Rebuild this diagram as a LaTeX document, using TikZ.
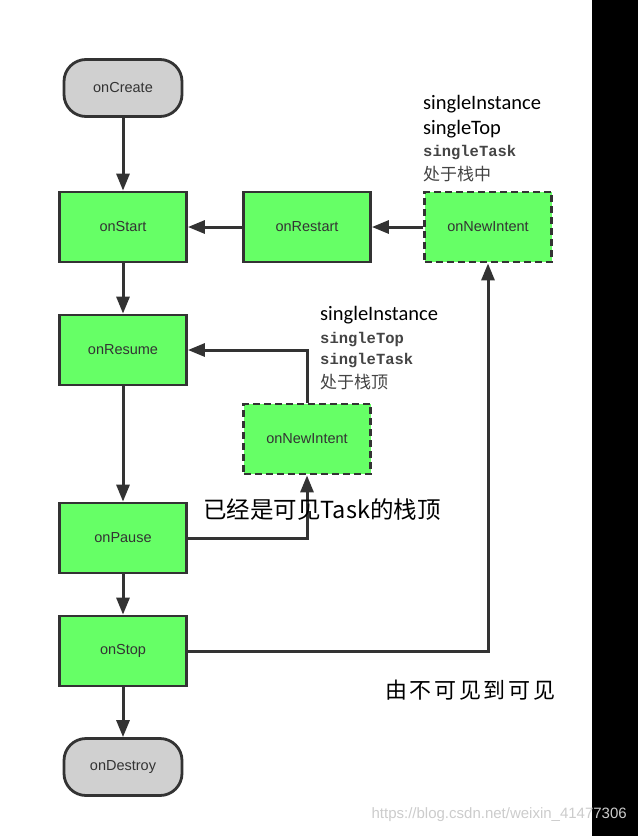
\documentclass[tikz,border=0pt]{standalone}
\usepackage{fontspec}
\setmainfont{Liberation Sans}
\newfontfamily\cjk{Noto Sans CJK SC}
\newfontfamily\calib{Carlito}
\newfontfamily\monob{Liberation Mono}
\usetikzlibrary{arrows.meta}
\definecolor{lgreen}{HTML}{66FF66}
\definecolor{lgray}{HTML}{D0D0D0}
\definecolor{dk}{HTML}{333333}
\definecolor{midgray}{HTML}{444444}
\definecolor{wmgray}{HTML}{CCCCCC}
\begin{document}
\begin{tikzpicture}[x=1pt,y=-1pt,
  box/.style={draw=dk, line width=2.8pt, fill=lgreen, minimum width=127pt, minimum height=70pt, inner sep=0pt, font=\fontsize{14.5}{17}\selectfont, text=dk},
  dbox/.style={box, dash pattern=on 7pt off 4pt},
  term/.style={box, fill=lgray, rounded corners=22pt, minimum width=118pt, minimum height=57pt},
  arr/.style={draw=dk, line width=3pt, -{Triangle[length=17pt,width=13pt]}},
  lab/.style={anchor=west, inner sep=0pt},
  cal/.style={lab, font=\calib\fontsize{20.5}{24}\selectfont, text=black},
  mono/.style={lab, font=\monob\bfseries\fontsize{15.5}{18}\selectfont, text=midgray},
  cjks/.style={lab, font=\cjk\fontsize{17}{20}\selectfont, text=midgray},
  big/.style={lab, font=\cjk\fontsize{23.5}{27}\selectfont, text=black}
]
\useasboundingbox (0,0) rectangle (638,836);
\fill[white] (0,0) rectangle (638,836);

% nodes
\node[term] (create) at (123,88) {onCreate};
\node[box] (start) at (123,227) {onStart};
\node[box] (restart) at (307,227) {onRestart};
\node[dbox] (ni1) at (488,227) {onNewIntent};
\node[box] (resume) at (123,350) {onResume};
\node[dbox] (ni2) at (307,439) {onNewIntent};
\node[box] (pause) at (123,538) {onPause};
\node[box] (stop) at (123,651) {onStop};
\node[term] (destroy) at (123,767) {onDestroy};

% connectors
\draw[arr] (create) -- (start);
\draw[arr] (start) -- (resume);
\draw[arr] (resume) -- (pause);
\draw[arr] (pause) -- (stop);
\draw[arr] (stop) -- (destroy);
\draw[arr] (restart) -- (start);
\draw[arr] (ni1) -- (restart);
\draw[arr] (stop.east) -| (ni1.south);
\draw[arr] (pause.east) -| (ni2.south);
\draw[arr] (ni2.north) |- (resume.east);

% labels
\node[cal] (a1) at (423,104) {singleInstance};
\node[cal] (a2) at (423,129) {singleTop};
\node[mono] (a3) at (423,153) {singleTask};
\node[cjks] (a4) at (423,174) {处于栈中};

\node[cal] (b1) at (320,315) {singleInstance};
\node[mono] (b2) at (320,340) {singleTop};
\node[mono] (b3) at (320,361) {singleTask};
\node[cjks] (b4) at (320,382) {处于栈顶};

\node[big] (c1) at (203,510) {已经是可见Task的栈顶};
\node[lab, font=\cjk\fontsize{22}{25}\selectfont\addfontfeature{LetterSpace=12}, text=black] (c2) at (385,690) {由不可见到可见};

% black bar and watermark
\fill[black] (592,0) rectangle (638,836);
\node[anchor=east, inner sep=0pt, font=\fontsize{15}{18}\selectfont, text=wmgray] (wm) at (627,815) {https://blog.csdn.net/weixin\_41477306};
\end{tikzpicture}
\end{document}
